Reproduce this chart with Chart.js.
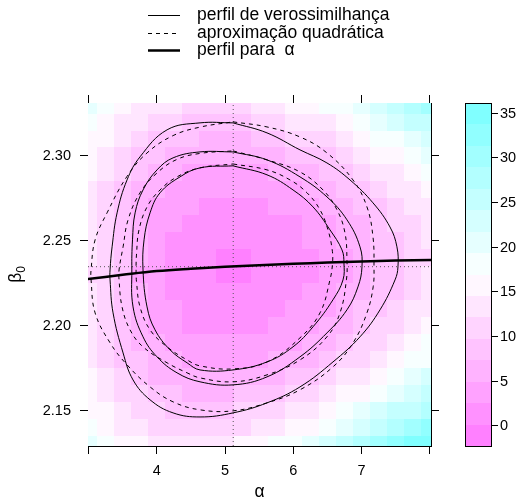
<!DOCTYPE html>
<html>
<head>
<meta charset="utf-8">
<script src="https://cdn.jsdelivr.net/npm/chart.js@4.4.1/dist/chart.umd.min.js"></script>
<style>
  html, body { margin: 0; padding: 0; background: #fff; }
  canvas { display: block; }
</style>
</head>
<body>
<canvas id="myChart" width="523" height="501"></canvas>
<script>
// Deviance surface at the cell centres
var alphaGrid = [3.00, 3.25, 3.50, 3.75, 4.00, 4.25, 4.50, 4.75, 5.00, 5.25, 5.50,
                 5.75, 6.00, 6.25, 6.50, 6.75, 7.00, 7.25, 7.50, 7.75, 8.00];
var betaGrid = [2.13, 2.14, 2.15, 2.16, 2.17, 2.18, 2.19, 2.20, 2.21, 2.22, 2.23,
                2.24, 2.25, 2.26, 2.27, 2.28, 2.29, 2.30, 2.31, 2.32, 2.33];
// one row per beta (bottom to top), one value per alpha
var devRows = [
  [19.5,17.8,16.0,14.7,13.6,13.0,13.1,13.1,13.5,14.7,15.6,16.9,18.4,19.9,22.4,24.5,26.8,29.2,31.7,34.4,37.1],
  [18.1,16.3,14.4,12.8,11.7,11.0,10.9,10.8,11.0,12.0,12.8,14.0,15.3,16.8,19.0,21.0,23.1,25.4,27.7,30.2,32.6],
  [16.8,14.9,12.9,11.2, 9.9, 9.1, 8.9, 8.7, 8.8, 9.7,10.4,11.4,12.6,13.9,16.0,17.8,19.8,21.9,24.1,26.4,28.6],
  [15.7,13.7,11.7, 9.7, 8.4, 7.5, 7.1, 6.8, 6.8, 7.6, 8.2, 9.1,10.2,11.4,13.3,15.0,16.8,18.8,20.9,23.0,25.1],
  [14.7,12.7,10.6, 8.4, 7.0, 6.1, 5.6, 5.2, 5.1, 5.7, 6.2, 7.0, 8.0, 9.1,10.9,12.5,14.2,16.1,18.0,20.0,21.9],
  [13.9,11.8, 9.6, 7.4, 5.9, 4.9, 4.3, 3.8, 3.7, 4.1, 4.6, 5.3, 6.2, 7.2, 8.8,10.3,12.0,13.7,15.6,17.4,19.2],
  [13.2,11.1, 8.9, 6.5, 5.0, 3.9, 3.2, 2.6, 2.5, 2.8, 3.2, 3.8, 4.7, 5.6, 7.1, 8.5,10.1,11.8,13.5,15.2,16.9],
  [12.7,10.5, 8.3, 5.8, 4.2, 3.1, 2.3, 1.7, 1.5, 1.7, 2.1, 2.7, 3.4, 4.3, 5.7, 7.1, 8.6,10.2,11.8,13.5,15.1],
  [12.3,10.1, 7.8, 5.3, 3.7, 2.5, 1.6, 1.0, 0.8, 0.9, 1.2, 1.8, 2.5, 3.4, 4.6, 5.9, 7.4, 9.0,10.5,12.1,13.7],
  [12.1, 9.9, 7.6, 4.9, 3.3, 2.2, 1.2, 0.6, 0.3, 0.4, 0.7, 1.2, 1.9, 2.7, 3.8, 5.2, 6.6, 8.1, 9.6,11.2,12.7],
  [12.0, 9.8, 7.5, 4.8, 3.2, 2.0, 1.0, 0.4, 0.0, 0.0, 0.4, 0.9, 1.6, 2.4, 3.4, 4.7, 6.1, 7.6, 9.1,10.6,12.1],
  [12.1, 9.9, 7.6, 4.9, 3.3, 2.1, 1.0, 0.4, 0.0, 0.0, 0.3, 0.8, 1.5, 2.3, 3.3, 4.6, 6.0, 7.5, 9.0,10.5,12.0],
  [12.3,10.1, 7.8, 5.1, 3.5, 2.3, 1.3, 0.6, 0.4, 0.3, 0.6, 1.1, 1.8, 2.6, 3.5, 4.9, 6.3, 7.8, 9.3,10.8,12.3],
  [12.7,10.5, 8.3, 5.5, 4.0, 2.8, 1.8, 1.1, 0.9, 0.8, 1.1, 1.6, 2.4, 3.2, 4.1, 5.4, 6.9, 8.4, 9.9,11.5,13.0],
  [13.2,11.1, 8.9, 6.2, 4.6, 3.5, 2.5, 1.9, 1.7, 1.6, 1.9, 2.5, 3.2, 4.1, 5.0, 6.3, 7.8, 9.4,11.0,12.6,14.2],
  [13.9,11.8, 9.6, 7.0, 5.5, 4.4, 3.4, 2.9, 2.7, 2.6, 2.9, 3.6, 4.4, 5.3, 6.2, 7.6, 9.1,10.8,12.4,14.1,15.8],
  [14.7,12.7,10.6, 8.0, 6.6, 5.6, 4.5, 4.1, 4.0, 3.8, 4.3, 5.0, 5.9, 6.9, 7.7, 9.2,10.8,12.5,14.3,16.0,17.8],
  [15.7,13.7,11.7, 9.2, 7.8, 6.9, 5.9, 5.5, 5.5, 5.4, 5.9, 6.7, 7.7, 8.7, 9.6,11.2,12.8,14.6,16.5,18.4,20.3],
  [16.8,14.9,12.9,10.6, 9.3, 8.4, 7.5, 7.2, 7.2, 7.2, 7.8, 8.6, 9.7,10.9,11.8,13.5,15.2,17.1,19.1,21.1,23.1],
  [18.1,16.3,14.4,12.2,10.9,10.2, 9.3, 9.1, 9.2, 9.2, 9.9,10.9,12.1,13.4,14.3,16.1,18.0,20.0,22.1,24.3,26.4],
  [19.5,17.8,16.0,13.9,12.8,12.2,11.3,11.2,11.5,11.5,12.3,13.4,14.8,16.2,17.2,19.1,21.1,23.2,25.5,27.8,30.2]
];

// Contours of the likelihood (solid) and of the quadratic approximation (dashed), [alpha, beta]
var outerSolid = [[5.117,2.3195],[5.615,2.3136],[6.098,2.3036],[6.493,2.2959],[6.830,2.2859],[7.167,2.2724],
  [7.416,2.2582],[7.518,2.2465],[7.533,2.2347],[7.490,2.2270],[7.270,2.2094],[6.977,2.1935],[6.581,2.1787],
  [6.098,2.1640],[5.615,2.1546],[5.117,2.1487],[4.634,2.1463],[4.239,2.1487],[3.902,2.1564],[3.653,2.1681],
  [3.507,2.1840],[3.360,2.2076],[3.316,2.2270],[3.316,2.2329],[3.346,2.2465],[3.419,2.2665],[3.565,2.2859],
  [3.755,2.2995],[4.151,2.3154],[4.634,2.3195],[5.117,2.3195]];
var middleSolid = [[5.117,2.3024],[5.615,2.2977],[6.098,2.2877],[6.493,2.2759],[6.786,2.2624],[6.977,2.2465],
  [7.006,2.2347],[6.947,2.2229],[6.786,2.2094],[6.493,2.1958],[6.098,2.1817],[5.615,2.1699],[5.117,2.1652],
  [4.634,2.1670],[4.297,2.1723],[4.004,2.1817],[3.799,2.1935],[3.653,2.2111],[3.635,2.2329],[3.645,2.2506],
  [3.683,2.2665],[3.799,2.2800],[4.004,2.2918],[4.239,2.2989],[4.634,2.3024],[5.117,2.3024]];
var innerSolid = [[5.117,2.2942],[5.615,2.2889],[5.996,2.2800],[6.289,2.2700],[6.537,2.2565],[6.713,2.2447],
  [6.742,2.2370],[6.728,2.2270],[6.581,2.2153],[6.289,2.1994],[5.996,2.1876],[5.615,2.1787],[5.117,2.1740],
  [4.634,2.1740],[4.444,2.1782],[4.195,2.1858],[3.975,2.1976],[3.858,2.2111],[3.799,2.2329],[3.814,2.2506],
  [3.902,2.2665],[4.048,2.2783],[4.341,2.2877],[4.634,2.2930],[5.117,2.2942]];
var outerDashed = [[5.117,2.3201],[5.615,2.3171],[6.098,2.3112],[6.493,2.3018],[6.874,2.2859],[7.079,2.2700],
  [7.167,2.2524],[7.182,2.2347],[7.170,2.2230],[7.079,2.2076],[6.874,2.1899],[6.581,2.1758],[6.098,2.1623],
  [5.615,2.1546],[5.117,2.1499],[4.634,2.1505],[4.239,2.1552],[3.902,2.1640],[3.565,2.1770],[3.316,2.1900],
  [3.097,2.2076],[3.038,2.2270],[3.038,2.2329],[3.097,2.2506],[3.272,2.2665],[3.565,2.2880],[3.858,2.3018],
  [4.239,2.3120],[4.634,2.3170],[5.117,2.3201]];
var middleDashed = [[5.117,2.3030],[5.615,2.2977],[6.098,2.2906],[6.435,2.2800],[6.640,2.2683],[6.757,2.2547],
  [6.786,2.2388],[6.778,2.2270],[6.684,2.2076],[6.493,2.1935],[6.098,2.1799],[5.615,2.1711],[5.117,2.1670],
  [4.634,2.1693],[4.444,2.1723],[4.151,2.1782],[3.799,2.1876],[3.609,2.1976],[3.492,2.2111],[3.448,2.2270],
  [3.448,2.2329],[3.507,2.2465],[3.580,2.2624],[3.755,2.2783],[4.004,2.2900],[4.297,2.2980],[4.634,2.3015],
  [5.117,2.3030]];
var innerDashed = [[5.117,2.2953],[5.615,2.2918],[5.952,2.2859],[6.201,2.2783],[6.391,2.2683],[6.508,2.2565],
  [6.570,2.2447],[6.575,2.2370],[6.537,2.2270],[6.391,2.2076],[6.098,2.1929],[5.615,2.1787],[5.117,2.1746],
  [4.634,2.1764],[4.444,2.1799],[4.151,2.1876],[3.902,2.1976],[3.755,2.2111],[3.705,2.2253],[3.697,2.2330],
  [3.705,2.2429],[3.740,2.2565],[3.858,2.2700],[4.048,2.2800],[4.297,2.2877],[4.634,2.2930],[5.117,2.2953]];

// Profile of beta0 for fixed alpha (thick line)
var profileAlpha = [2.99, 3.5, 4.0, 4.5, 5.0, 5.5, 6.0, 6.5, 7.0, 7.5, 8.02];
var profileBeta = [2.2275, 2.2300, 2.2322, 2.2336, 2.2347, 2.2356, 2.2365, 2.2372, 2.2378, 2.2384, 2.2388];

// Maximum likelihood estimate (dotted guide lines)
var mleAlpha = 5.12;
var mleBeta = 2.2348;

// Axes and colour key
var xMin = 2.993, xMax = 8.017;
var yMin = 2.1292, yMax = 2.3312;
var xTicks = [3, 4, 5, 6, 7, 8];
var xLabelled = [4, 5, 6, 7];
var yTicks = [2.15, 2.20, 2.25, 2.30];
var keyTicks = [0, 5, 10, 15, 20, 25, 30, 35];
var keyMin = -2.3, keyMax = 36.1, nBands = 16;

var legendLabels = ["perfil de verossimilhança", "aproximação quadrática", "perfil para  α"];

var fontFamily = '"Liberation Sans", Arial, Helvetica, sans-serif';
Chart.defaults.font.family = fontFamily;
Chart.defaults.color = '#000';

function toXY(list) {
  return list.map(function (p) { return { x: p[0], y: p[1] }; });
}

// lattice-like cm.colors, magenta for low values and cyan for high ones
function bandColor(b) {
  var t = b / (nBands - 1), s;
  if (t < 0.5) {
    s = 0.5 * (1 - 2 * t);
    return 'rgb(255,' + Math.round(255 * (1 - s)) + ',255)';
  }
  s = 0.5 * (2 * t - 1);
  return 'rgb(' + Math.round(255 * (1 - s)) + ',255,255)';
}

function bandOf(v) {
  var b = Math.floor((v - keyMin) / ((keyMax - keyMin) / nBands));
  return Math.max(0, Math.min(nBands - 1, b));
}

function lineSet(points, dash, width) {
  return {
    data: toXY(points),
    showLine: true,
    borderColor: '#000',
    borderWidth: width || 1,
    borderDash: dash || [],
    pointRadius: 0,
    tension: 0.4,
    fill: false
  };
}

var datasets = [
  lineSet(outerSolid), lineSet(middleSolid), lineSet(innerSolid),
  lineSet(outerDashed, [4, 4]), lineSet(middleDashed, [4, 4]), lineSet(innerDashed, [4, 4]),
  {
    data: profileAlpha.map(function (a, i) { return { x: a, y: profileBeta[i] }; }),
    showLine: true, borderColor: '#000', borderWidth: 2.5, pointRadius: 0, tension: 0.4
  },
  {
    data: [{ x: mleAlpha, y: yMin }, { x: mleAlpha, y: yMax }],
    showLine: true, borderColor: '#555', borderWidth: 1, borderDash: [1, 3], pointRadius: 0
  },
  {
    data: [{ x: xMin, y: mleBeta }, { x: xMax, y: mleBeta }],
    showLine: true, borderColor: '#555', borderWidth: 1, borderDash: [1, 3], pointRadius: 0
  }
];

// Level plot cells, drawn under the contours
var heatmapPlugin = {
  id: 'heatmap',
  beforeDatasetsDraw: function (chart) {
    var ctx = chart.ctx, area = chart.chartArea;
    var xs = chart.scales.x, ys = chart.scales.y;
    var ha = (alphaGrid[1] - alphaGrid[0]) / 2, hb = (betaGrid[1] - betaGrid[0]) / 2;
    ctx.save();
    ctx.beginPath();
    ctx.rect(area.left, area.top, area.right - area.left, area.bottom - area.top);
    ctx.clip();
    for (var j = 0; j < betaGrid.length; j++) {
      for (var i = 0; i < alphaGrid.length; i++) {
        var x0 = Math.round(xs.getPixelForValue(alphaGrid[i] - ha));
        var x1 = Math.round(xs.getPixelForValue(alphaGrid[i] + ha));
        var y0 = Math.round(ys.getPixelForValue(betaGrid[j] + hb));
        var y1 = Math.round(ys.getPixelForValue(betaGrid[j] - hb));
        ctx.fillStyle = bandColor(bandOf(devRows[j][i]));
        ctx.fillRect(x0, y0, x1 - x0, y1 - y0);
      }
    }
    ctx.restore();
  }
};

// Colour key, axis titles and the line legend
var decorPlugin = {
  id: 'decor',
  afterDraw: function (chart) {
    var ctx = chart.ctx, area = chart.chartArea;
    var keyLeft = 465, keyWidth = 26;
    var keyY = function (v) {
      return area.bottom - (v - keyMin) / (keyMax - keyMin) * (area.bottom - area.top);
    };
    ctx.save();
    var step = (keyMax - keyMin) / nBands;
    for (var b = 0; b < nBands; b++) {
      var yTop = Math.round(keyY(keyMin + (b + 1) * step));
      var yBot = Math.round(keyY(keyMin + b * step));
      ctx.fillStyle = bandColor(b);
      ctx.fillRect(keyLeft, yTop, keyWidth, yBot - yTop);
    }
    ctx.strokeStyle = '#000';
    ctx.lineWidth = 1;
    ctx.strokeRect(keyLeft + 0.5, Math.round(area.top) + 0.5, keyWidth, Math.round(area.bottom - area.top));
    ctx.font = '14.5px ' + fontFamily;
    ctx.fillStyle = '#000';
    ctx.textAlign = 'left';
    ctx.textBaseline = 'middle';
    keyTicks.forEach(function (v) {
      var y = Math.round(keyY(v)) + 0.5;
      ctx.beginPath();
      ctx.moveTo(keyLeft + keyWidth + 0.5, y);
      ctx.lineTo(keyLeft + keyWidth + 7, y);
      ctx.stroke();
      ctx.fillText(String(v), keyLeft + keyWidth + 9, y);
    });

    // x title
    ctx.font = '17.5px ' + fontFamily;
    ctx.textAlign = 'center';
    ctx.textBaseline = 'alphabetic';
    ctx.fillText('α', (area.left + area.right) / 2, 497);

    // y title with subscript
    ctx.save();
    ctx.translate(16, (area.top + area.bottom) / 2);
    ctx.rotate(-Math.PI / 2);
    ctx.font = '17.5px ' + fontFamily;
    var wb = ctx.measureText('β').width;
    ctx.font = '12px ' + fontFamily;
    var w0 = ctx.measureText('0').width;
    var start = -(wb + w0) / 2;
    ctx.textAlign = 'left';
    ctx.font = '17.5px ' + fontFamily;
    ctx.fillText('β', start, 5);
    ctx.font = '12px ' + fontFamily;
    ctx.fillText('0', start + wb, 9);
    ctx.restore();

    // legend
    var rows = [
      { ds: chart.data.datasets[0], y: 15 },
      { ds: chart.data.datasets[3], y: 33 },
      { ds: chart.data.datasets[6], y: 50 }
    ];
    rows.forEach(function (row, k) {
      ctx.beginPath();
      ctx.setLineDash(row.ds.borderDash || []);
      ctx.lineWidth = row.ds.borderWidth;
      ctx.strokeStyle = '#000';
      ctx.moveTo(148, row.y + 0.5);
      ctx.lineTo(180, row.y + 0.5);
      ctx.stroke();
      ctx.setLineDash([]);
      ctx.font = '17.5px ' + fontFamily;
      ctx.textAlign = 'left';
      ctx.textBaseline = 'middle';
      ctx.fillText(legendLabels[k], 197, row.y);
    });
    ctx.restore();
  }
};

function axisBase(position, labelled, size) {
  var horizontal = position === 'top' || position === 'bottom';
  return {
    type: 'linear',
    axis: horizontal ? 'x' : 'y',
    position: position,
    min: horizontal ? xMin : yMin,
    max: horizontal ? xMax : yMax,
    z: 1,
    afterBuildTicks: function (scale) {
      scale.ticks = (horizontal ? xTicks : yTicks).map(function (v) { return { value: v }; });
    },
    afterFit: function (scale) {
      if (horizontal) { scale.height = size; } else { scale.width = size; }
    },
    grid: { drawOnChartArea: false, tickLength: 8, color: '#000', lineWidth: 1 },
    border: { color: '#000', width: 1 },
    ticks: {
      autoSkip: false,
      maxRotation: 0,
      padding: horizontal ? 8 : 9,
      font: { size: 14.5 },
      color: '#000',
      callback: function (v) {
        if (!labelled) { return ''; }
        if (horizontal) { return xLabelled.indexOf(v) >= 0 ? String(v) : ''; }
        return v.toFixed(2);
      }
    }
  };
}

var ctx = document.getElementById('myChart').getContext('2d');
var myChart = new Chart(ctx, {
  type: 'scatter',
  data: { datasets: datasets },
  options: {
    responsive: false,
    animation: false,
    devicePixelRatio: 1,
    layout: { padding: 0 },
    plugins: { legend: { display: false }, tooltip: { enabled: false } },
    scales: {
      x: axisBase('bottom', true, 55),
      x2: axisBase('top', false, 103),
      y: axisBase('left', true, 88),
      y2: axisBase('right', false, 92)
    }
  },
  plugins: [heatmapPlugin, decorPlugin]
});
</script>
</body>
</html>
